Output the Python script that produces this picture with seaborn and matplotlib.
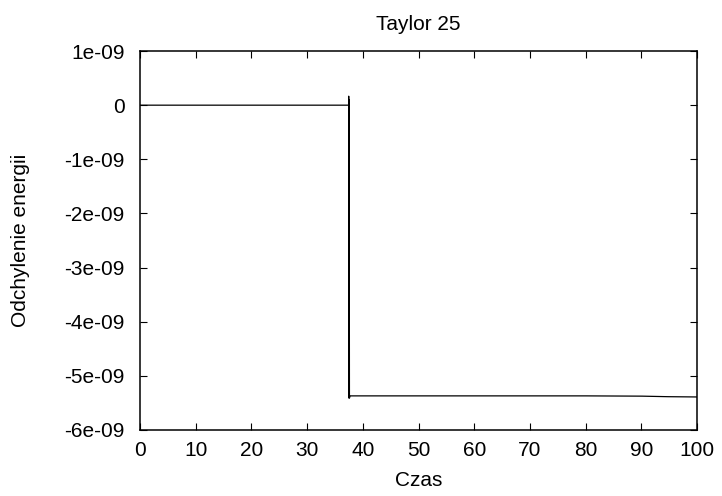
import matplotlib
matplotlib.use("Agg")
import matplotlib.pyplot as plt
import seaborn as sns
import pandas as pd

# Energy deviation of the Taylor (order 25) integrator over time
czas = [0.0, 10.0, 20.0, 30.0, 37.45, 37.47, 37.50, 37.55, 37.60, 37.70,
        60.0, 80.0, 90.1, 94.8, 100.0]
odchylenie = [0.0, 0.0, 0.0, 0.0, 0.0, 0.166e-9, -5.41e-9, 0.1e-9, -5.41e-9, -5.37e-9,
              -5.37e-9, -5.37e-9, -5.375e-9, -5.385e-9, -5.39e-9]

x_ticks = [0, 10, 20, 30, 40, 50, 60, 70, 80, 90, 100]
y_ticks = [1e-9, 0, -1e-9, -2e-9, -3e-9, -4e-9, -5e-9, -6e-9]
y_tick_labels = ["1e-09", "0", "-1e-09", "-2e-09", "-3e-09", "-4e-09", "-5e-09", "-6e-09"]

sns.set_style("white")
plt.rcParams["font.family"] = ["Liberation Sans", "DejaVu Sans"]
plt.rcParams["text.color"] = "black"
plt.rcParams["axes.labelcolor"] = "black"
FS = 15

df = pd.DataFrame({"Czas": czas, "Odchylenie": odchylenie})

fig = plt.figure(figsize=(7.22, 4.96), dpi=100)
ax = fig.add_axes([0.1939, 0.1331, 0.7715, 0.764])
sns.lineplot(data=df, x="Czas", y="Odchylenie", sort=False, estimator=None,
             color="black", linewidth=0.9, ax=ax)

ax.set_xlim(0, 100)
ax.set_ylim(-6e-9, 1e-9)
ax.set_xticks(x_ticks)
ax.set_xticklabels([str(t) for t in x_ticks])
ax.set_yticks(y_ticks)
ax.set_yticklabels(y_tick_labels)
ax.tick_params(direction="in", length=5, width=0.8, top=True, right=True,
               bottom=True, left=True, labelsize=FS, colors="black")
ax.tick_params(axis="x", pad=8)
ax.tick_params(axis="y", pad=11)
for s in ax.spines.values():
    s.set_color("black")
    s.set_linewidth(1.1)

ax.set_xlabel("Czas", fontsize=FS, labelpad=7.5, color="black")
ax.set_ylabel("Odchylenie energii", fontsize=FS, labelpad=25, color="black")
ax.set_title("Taylor 25", fontsize=FS, pad=15, color="black")

fig.savefig("out.png", dpi=100, facecolor="white")
